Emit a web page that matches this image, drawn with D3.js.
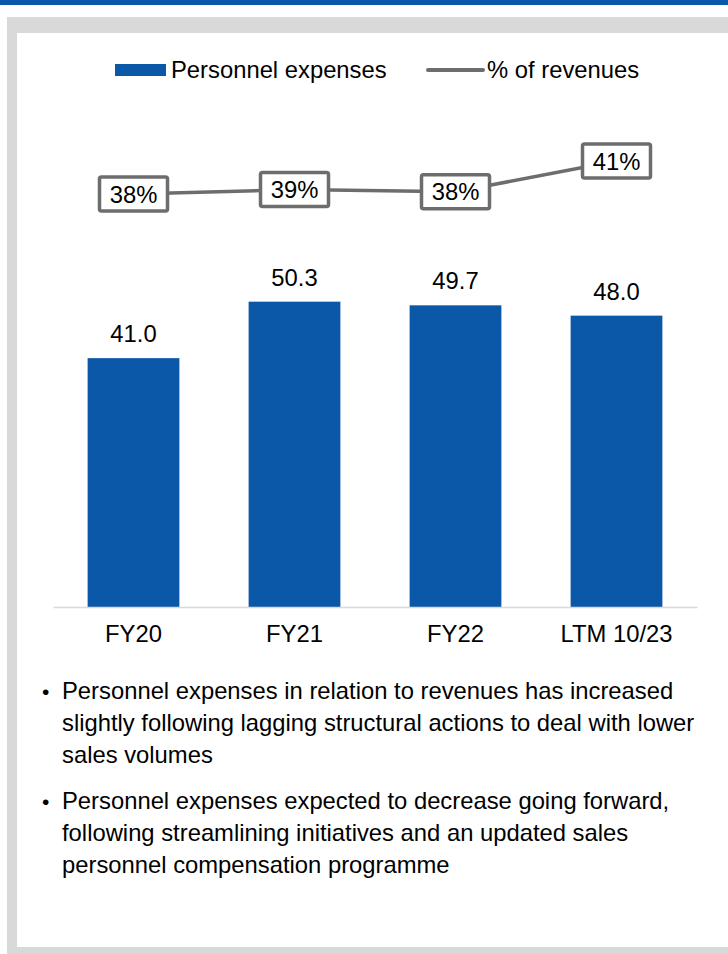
<!DOCTYPE html>
<head>
  <meta charset="utf-8">
  <script src="https://d3js.org/d3.v7.min.js"></script>
  <style>
    body { margin: 0; background: #fff; }
    text {
      font-family: 'Liberation Sans', Arial, sans-serif;
      fill: #000;
    }
  </style>
</head>

<body>
  <div id="chart"></div>

  <script>
    // data
    var categories = ["FY20", "FY21", "FY22", "LTM 10/23"];
    var expenses = [41.0, 50.3, 49.7, 48.0];
    var pctRevenues = [38.2, 38.6, 38.4, 41.2];
    var legendLabels = ["Personnel expenses", "% of revenues"];
    var bullets = [
      ["Personnel expenses in relation to revenues has increased",
       "slightly following lagging structural actions to deal with lower",
       "sales volumes"],
      ["Personnel expenses expected to decrease going forward,",
       "following streamlining initiatives and an updated sales",
       "personnel compensation programme"]
    ];

    var blue = "#0b58a8",
      lineGrey = "#6d6d6d",
      frameGrey = "#d9d9d9";

    var W = 728, H = 954;
    var fs = "23.8px";

    var svg = d3.select("#chart")
      .append("svg")
      .attr("width", W)
      .attr("height", H);

    // page frame
    svg.append("rect").attr("x", 0).attr("y", 0).attr("width", W).attr("height", 5).style("fill", blue);
    svg.append("rect").attr("x", 7).attr("y", 17).attr("width", W - 7).attr("height", H - 17).style("fill", frameGrey);
    svg.append("rect").attr("x", 17).attr("y", 33).attr("width", W - 17).attr("height", 947 - 33).style("fill", "#fff");

    // scales
    var x = d3.scaleBand()
      .domain(categories)
      .range([53, 697])
      .paddingInner(0.43)
      .paddingOuter(0.215);

    var y = d3.scaleLinear()
      .domain([0, 60])
      .range([607, 607 - 364.2]);

    var y2 = d3.scaleLinear()
      .domain([30, 45])
      .range([284.2, 119.2]);

    // bars
    svg.append("g")
      .selectAll("rect")
      .data(expenses)
      .enter()
      .append("rect")
      .attr("x", (d, i) => x(categories[i]))
      .attr("y", d => y(d))
      .attr("width", x.bandwidth())
      .attr("height", d => y(0) - y(d))
      .style("fill", blue);

    svg.append("g")
      .selectAll("text")
      .data(expenses)
      .enter()
      .append("text")
      .attr("x", (d, i) => x(categories[i]) + x.bandwidth() / 2)
      .attr("y", d => y(d) - 16)
      .attr("text-anchor", "middle")
      .style("font-size", fs)
      .text(d => d3.format(".1f")(d));

    // x axis
    var xAxis = svg.append("g")
      .attr("transform", "translate(0," + y(0) + ")")
      .call(d3.axisBottom(x).tickSize(0).tickPadding(18));
    xAxis.select(".domain").attr("stroke", frameGrey).attr("stroke-width", 1.5);
    xAxis.selectAll(".tick text")
      .style("font-size", fs)
      .style("font-family", "'Liberation Sans', Arial, sans-serif")
      .attr("fill", "#000");

    // % of revenues line
    var line = d3.line()
      .x((d, i) => x(categories[i]) + x.bandwidth() / 2)
      .y(d => y2(d));

    svg.append("path")
      .datum(pctRevenues)
      .attr("d", line)
      .attr("fill", "none")
      .attr("stroke", lineGrey)
      .attr("stroke-width", 3.5);

    var boxes = svg.append("g")
      .selectAll("g")
      .data(pctRevenues)
      .enter()
      .append("g")
      .attr("transform", (d, i) => "translate(" + (x(categories[i]) + x.bandwidth() / 2) + "," + y2(d) + ")");

    boxes.append("rect")
      .attr("x", -34)
      .attr("y", -17)
      .attr("width", 68)
      .attr("height", 34)
      .attr("rx", 2)
      .style("fill", "#fff")
      .style("stroke", lineGrey)
      .style("stroke-width", 3.5);

    boxes.append("text")
      .attr("text-anchor", "middle")
      .attr("dy", "0.36em")
      .style("font-size", fs)
      .text(d => d3.format(".0f")(d) + "%");

    // legend
    var legend = svg.append("g");
    legend.append("rect")
      .attr("x", 115).attr("y", 64)
      .attr("width", 51).attr("height", 12)
      .style("fill", blue);
    legend.append("text")
      .attr("x", 171).attr("y", 78)
      .style("font-size", fs)
      .text(legendLabels[0]);
    legend.append("line")
      .attr("x1", 428).attr("x2", 483)
      .attr("y1", 70).attr("y2", 70)
      .attr("stroke", lineGrey)
      .attr("stroke-width", 4)
      .attr("stroke-linecap", "round");
    legend.append("text")
      .attr("x", 487).attr("y", 78)
      .style("font-size", fs)
      .text(legendLabels[1]);

    // commentary bullets
    var notes = svg.append("g");
    var lineH = 32;
    bullets.forEach(function (lines, b) {
      var top = 699 + b * 110;
      notes.append("text")
        .attr("x", 42).attr("y", top)
        .style("font-size", "21px")
        .text("\u2022");
      lines.forEach(function (t, j) {
        notes.append("text")
          .attr("x", 62)
          .attr("y", top + j * lineH)
          .style("font-size", fs)
          .text(t);
      });
    });
  </script>
</body>
